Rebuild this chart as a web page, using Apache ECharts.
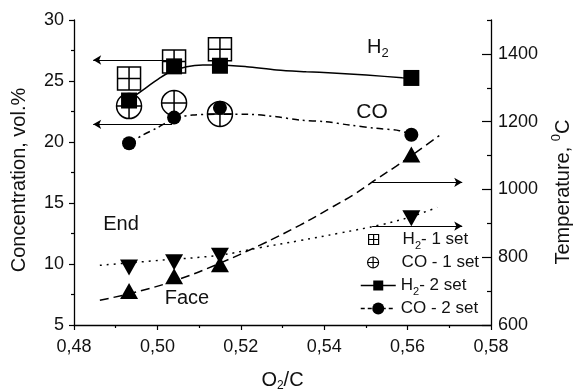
<!DOCTYPE html>
<html>
<head>
<meta charset="utf-8">
<script src="https://cdn.jsdelivr.net/npm/echarts@6/dist/echarts.min.js"></script>
<style>
html, body { margin: 0; padding: 0; background: #fff; }
#chart { width: 573px; height: 391px; }
</style>
</head>
<body>
<div id="chart"></div>
<script>
// O2/C ratio of the runs
const ratioSet1 = [0.4932, 0.5040, 0.5150];
const ratioSet2 = [0.4932, 0.5040, 0.5150, 0.5609];

// Gas composition, vol.%
const h2Set1 = [25.2, 26.6, 27.6];
const coSet1 = [22.95, 23.2, 22.3];
const h2Set2 = [23.4, 26.2, 26.25, 25.25];
const coSet2 = [19.9, 22.0, 22.8, 20.6];

// Temperatures at the face and at the end, °C
const tempFace = [700, 744, 779, 1103];
const tempEnd = [770, 785, 804, 915];

// Trend curves
const h2FitX = [0.4932, 0.4965, 0.5006, 0.5030, 0.5070, 0.5109, 0.5149, 0.5214, 0.5286, 0.5357, 0.5420, 0.5501, 0.5587, 0.5609];
const h2FitY = [23.44, 24.26, 25.25, 25.74, 26.17, 26.31, 26.31, 26.17, 25.90, 25.76, 25.66, 25.49, 25.27, 25.25];
const coFitX = [0.4932, 0.4965, 0.4999, 0.5042, 0.5085, 0.5149, 0.5214, 0.5286, 0.5341, 0.5405, 0.5460, 0.5525, 0.5580, 0.5609];
const coFitY = [19.89, 20.57, 21.15, 21.94, 22.21, 22.27, 22.27, 22.07, 21.80, 21.66, 21.39, 21.12, 20.93, 20.60];
const faceFitX = [0.4862, 0.4958, 0.5054, 0.5149, 0.5245, 0.5341, 0.5412, 0.5467, 0.5525, 0.5573, 0.5621, 0.5676];
const faceFitY = [673, 700, 736, 782, 835, 894, 943, 982, 1030, 1069, 1110, 1159];
const endFitX = [0.4862, 0.5006, 0.5149, 0.5245, 0.5341, 0.5436, 0.5537, 0.5604, 0.5671];
const endFitY = [776, 791, 806, 828, 849, 871, 896, 918, 947];

// Arrows showing which axis each group belongs to: [from, to]
const arrowsConc = [[[0.5042, 26.72], [0.4846, 26.72]], [[0.5035, 21.45], [0.4846, 21.45]]];
const arrowsTemp = [[[0.5515, 1021], [0.5731, 1021]], [[0.5515, 892], [0.5731, 892]]];

// Temperature axis ticks
const tempMajor = [600, 800, 1000, 1200, 1400];
const tempMinor = [700, 900, 1100, 1300, 1500];

const FONT = '"Liberation Sans", Arial, Helvetica, sans-serif';
const INK = '#111';

const pairs = (xs, ys) => xs.map((x, i) => [x, ys[i]]);

const plusSquare = 'path://M0,0L10,0L10,10L0,10Z M5,0L5,10 M0,5L10,5';
const plusCircle = 'path://M0,5A5,5,0,1,1,10,5A5,5,0,1,1,0,5Z M5,0L5,10 M0,5L10,5';
const hollow = { color: 'rgba(0,0,0,0)', borderColor: '#000', borderWidth: 1.5, opacity: 1 };
const solid = { color: '#000', opacity: 1 };

const legendRich = {
  t: { fontSize: 17, fontFamily: FONT, color: INK, lineHeight: 24, verticalAlign: 'middle' },
  s: { fontSize: 11, fontFamily: FONT, color: INK, lineHeight: 8, verticalAlign: 'bottom' }
};
function legendText(name) {
  if (name.indexOf('H2') === 0) return '{t|H}{s|2}{t|- ' + name.slice(5) + '}';
  return '{t|' + name + '}';
}
function legendEntry(name, left, centerY, extra) {
  return Object.assign({
    data: [name],
    left: left,
    top: centerY - 12,
    padding: 0,
    selectedMode: false,
    formatter: legendText,
    textStyle: { rich: legendRich }
  }, extra);
}

const chart = echarts.init(document.getElementById('chart'), null, { renderer: 'canvas' });

const option = {
  animation: false,
  backgroundColor: '#fff',
  grid: { left: 74, right: 82, top: 20, bottom: 66, outerBoundsMode: 'none', containLabel: false },
  xAxis: {
    type: 'value',
    min: 0.48, max: 0.58, interval: 0.02,
    name: '{a|O}{s|2}{a|/C}',
    nameLocation: 'middle',
    nameGap: 43,
    nameTextStyle: {
      rich: {
        a: { fontSize: 20, fontFamily: FONT, color: INK, lineHeight: 24, verticalAlign: 'middle' },
        s: { fontSize: 12, fontFamily: FONT, color: INK, lineHeight: 8, verticalAlign: 'bottom' }
      }
    },
    axisLine: { lineStyle: { color: '#000', width: 1.3 } },
    axisTick: { length: 5, lineStyle: { color: '#000', width: 1.2 } },
    minorTick: { show: true, splitNumber: 2, length: 3, lineStyle: { color: '#000', width: 1.2 } },
    splitLine: { show: false },
    axisLabel: {
      fontSize: 18, fontFamily: FONT, color: INK, margin: 13,
      formatter: v => v.toFixed(2).replace('.', ',')
    }
  },
  yAxis: [
    {
      type: 'value', position: 'left',
      min: 5, max: 30, interval: 5,
      axisLine: { show: true, lineStyle: { color: '#000', width: 1.3 } },
      axisTick: { show: true, length: 5, lineStyle: { color: '#000', width: 1.2 } },
      minorTick: { show: true, splitNumber: 2, length: 3, lineStyle: { color: '#000', width: 1.2 } },
      splitLine: { show: false },
      axisLabel: { fontSize: 18, fontFamily: FONT, color: INK, margin: 10, formatter: v => String(v) }
    },
    {
      type: 'value', position: 'right',
      min: 600, max: 1500,
      axisLine: { show: true, lineStyle: { color: '#000', width: 1.3 } },
      axisTick: { show: true, inside: true, length: 9, customValues: tempMajor, lineStyle: { color: '#000', width: 1.2 } },
      splitLine: { show: false },
      axisLabel: { fontSize: 18, fontFamily: FONT, color: INK, margin: 7, customValues: tempMajor, formatter: v => String(v) }
    },
    {
      type: 'value', position: 'right',
      min: 600, max: 1500,
      axisLine: { show: false },
      axisTick: { show: true, inside: true, length: 4, customValues: tempMinor, lineStyle: { color: '#000', width: 1.2 } },
      splitLine: { show: false },
      axisLabel: { show: false }
    }
  ],
  legend: [
    legendEntry('H2 - 1 set', 368, 243, { itemWidth: 10, itemHeight: 10,
      itemStyle: { color: 'rgba(0,0,0,0)', borderColor: '#000', borderWidth: 1.2, opacity: 1 },
      textStyle: { rich: legendRich, padding: [0, 0, 0, 19] } }),
    legendEntry('CO - 1 set', 367, 266, { itemWidth: 11, itemHeight: 11,
      itemStyle: { color: 'rgba(0,0,0,0)', borderColor: '#000', borderWidth: 1.2, opacity: 1 },
      textStyle: { rich: legendRich, padding: [0, 0, 0, 18] } }),
    legendEntry('H2 - 2 set', 360, 289, { itemWidth: 35, itemHeight: 12.5,
      lineStyle: { color: '#000', width: 1.5, type: 'solid', opacity: 1 },
      itemStyle: { color: '#000', borderWidth: 0, opacity: 1 } }),
    legendEntry('CO - 2 set', 360, 312, { itemWidth: 35, itemHeight: 15,
      lineStyle: { color: '#000', width: 1.5, type: [4, 3], opacity: 1 },
      itemStyle: { color: '#000', borderWidth: 0, opacity: 1 } })
  ],
  graphic: [
    { type: 'text', x: 19, y: 180, rotation: Math.PI / 2, silent: true,
      style: { text: 'Concentration, vol.%', fontSize: 20, fontFamily: FONT, fill: INK, align: 'center', verticalAlign: 'middle' } },
    { type: 'text', x: 563, y: 192, rotation: Math.PI / 2, silent: true,
      style: { text: '{a|Temperature, }{u|0}{a|C}', align: 'center', verticalAlign: 'middle',
        rich: {
          a: { fontSize: 20, fontFamily: FONT, fill: INK, lineHeight: 26, verticalAlign: 'middle' },
          u: { fontSize: 13, fontFamily: FONT, fill: INK, lineHeight: 10, verticalAlign: 'top' }
        } } },
    { type: 'text', x: 367, y: 47, silent: true,
      style: { text: '{a|H}{s|2}', align: 'left', verticalAlign: 'middle',
        rich: {
          a: { fontSize: 20, fontFamily: FONT, fill: INK, lineHeight: 26, verticalAlign: 'middle' },
          s: { fontSize: 13, fontFamily: FONT, fill: INK, lineHeight: 10, verticalAlign: 'bottom' }
        } } },
    { type: 'text', x: 372, y: 112, silent: true,
      style: { text: 'CO', fontSize: 21, fontFamily: FONT, fill: INK, align: 'center', verticalAlign: 'middle' } },
    { type: 'text', x: 121, y: 224, silent: true,
      style: { text: 'End', fontSize: 20, fontFamily: FONT, fill: INK, align: 'center', verticalAlign: 'middle' } },
    { type: 'text', x: 187, y: 298, silent: true,
      style: { text: 'Face', fontSize: 20, fontFamily: FONT, fill: INK, align: 'center', verticalAlign: 'middle' } }
  ],
  series: [
    {
      name: 'H2 - 1 set', type: 'scatter', yAxisIndex: 0,
      data: pairs(ratioSet1, h2Set1),
      symbol: plusSquare, symbolSize: 23,
      itemStyle: hollow, emphasis: { disabled: true }
    },
    {
      name: 'CO - 1 set', type: 'scatter', yAxisIndex: 0,
      data: pairs(ratioSet1, coSet1),
      symbol: plusCircle, symbolSize: 25,
      itemStyle: hollow, emphasis: { disabled: true }
    },
    {
      name: 'H2 trend', type: 'line', yAxisIndex: 0,
      data: pairs(h2FitX, h2FitY), smooth: 0.3,
      showSymbol: false, symbol: 'none',
      lineStyle: { color: '#000', width: 1.5, type: 'solid' },
      silent: true,
      markLine: {
        silent: true, animation: false,
        symbol: ['none', 'arrow'], symbolSize: [7, 8],
        lineStyle: { color: '#000', width: 1.2, type: 'solid' },
        label: { show: false },
        data: arrowsConc.map(a => [{ coord: a[0] }, { coord: a[1] }])
      }
    },
    {
      name: 'CO trend', type: 'line', yAxisIndex: 0,
      data: pairs(coFitX, coFitY), smooth: 0.3,
      showSymbol: false, symbol: 'none',
      lineStyle: { color: '#000', width: 1.5, type: [7, 4, 2, 4] },
      silent: true
    },
    {
      name: 'H2 - 2 set', type: 'line', yAxisIndex: 0,
      data: pairs(ratioSet2, h2Set2),
      symbol: 'rect', symbolSize: 16, showSymbol: true,
      itemStyle: solid,
      lineStyle: { color: '#000', opacity: 0 },
      emphasis: { disabled: true }
    },
    {
      name: 'CO - 2 set', type: 'line', yAxisIndex: 0,
      data: pairs(ratioSet2, coSet2),
      symbol: 'circle', symbolSize: 14, showSymbol: true,
      itemStyle: solid,
      lineStyle: { color: '#000', opacity: 0, type: [4, 3] },
      emphasis: { disabled: true }
    },
    {
      name: 'Face trend', type: 'line', yAxisIndex: 1,
      data: pairs(faceFitX, faceFitY), smooth: 0.4,
      showSymbol: false, symbol: 'none',
      lineStyle: { color: '#000', width: 1.5, type: [9, 5] },
      silent: true,
      markLine: {
        silent: true, animation: false,
        symbol: ['none', 'arrow'], symbolSize: [7, 8],
        lineStyle: { color: '#000', width: 1.2, type: 'solid' },
        label: { show: false },
        data: arrowsTemp.map(a => [{ coord: a[0] }, { coord: a[1] }])
      }
    },
    {
      name: 'End trend', type: 'line', yAxisIndex: 1,
      data: pairs(endFitX, endFitY), smooth: 0.4,
      showSymbol: false, symbol: 'none',
      lineStyle: { color: '#000', width: 1.5, type: [2, 5] },
      silent: true
    },
    {
      name: 'Face', type: 'scatter', yAxisIndex: 1,
      data: pairs(ratioSet2, tempFace),
      symbol: 'triangle', symbolSize: [18, 16],
      itemStyle: solid, emphasis: { disabled: true }
    },
    {
      name: 'End', type: 'scatter', yAxisIndex: 1,
      data: pairs(ratioSet2, tempEnd),
      symbol: 'triangle', symbolSize: [18, 16], symbolRotate: 180,
      itemStyle: solid, emphasis: { disabled: true }
    }
  ]
};

chart.setOption(option);
</script>
</body>
</html>
